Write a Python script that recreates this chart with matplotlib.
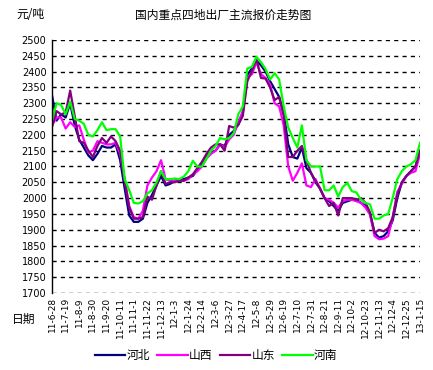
import numpy as np
import matplotlib
matplotlib.use("Agg")
import matplotlib.pyplot as plt

plt.rcParams['font.family'] = ['DejaVu Sans', 'Noto Sans CJK SC']

# weekly quotes, 11-6-28 .. 13-1-15 (82 weeks)
hebei = [2325, 2245, 2265, 2255, 2300, 2230, 2185, 2160, 2135, 2120,
         2140, 2165, 2160, 2160, 2170, 2120, 2030, 1945, 1925, 1925,
         1935, 1985, 2010, 2040, 2070, 2040, 2045, 2055, 2060, 2060,
         2065, 2070, 2090, 2105, 2135, 2145, 2150, 2170, 2165, 2200,
         2212, 2232, 2270, 2390, 2410, 2435, 2420, 2400, 2370, 2345,
         2320, 2270, 2170, 2130, 2125, 2160, 2095, 2080, 2050, 2030,
         2000, 1990, 1975, 1960, 1985, 1990, 1995, 1995, 1985, 1975,
         1950, 1890, 1875, 1880, 1895, 1930, 2000, 2050, 2070, 2085,
         2100, 2150]
shanxi = [2230, 2255, 2255, 2220, 2240, 2225, 2230, 2185, 2145, 2150,
          2180, 2175, 2170, 2170, 2175, 2140, 2060, 1975, 1940, 1935,
          1960, 2040, 2065, 2085, 2120, 2060, 2055, 2055, 2055, 2055,
          2060, 2075, 2085, 2100, 2125, 2140, 2150, 2170, 2160, 2186,
          2200, 2240, 2275, 2380, 2392, 2430, 2392, 2380, 2360, 2300,
          2290, 2230, 2100, 2055, 2080, 2110, 2040, 2035, 2060, 2030,
          2000, 1995, 1985, 1970, 1990, 1995, 1995, 1990, 1985, 1970,
          1948, 1880, 1870, 1872, 1880, 1940, 2020, 2045, 2070, 2080,
          2085, 2140]
shandong = [2225, 2275, 2265, 2270, 2340, 2260, 2180, 2175, 2150, 2130,
            2165, 2190, 2175, 2195, 2180, 2150, 2055, 1970, 1935, 1935,
            1940, 2005, 1995, 2040, 2085, 2045, 2050, 2050, 2055, 2055,
            2065, 2075, 2095, 2115, 2140, 2160, 2170, 2170, 2150, 2228,
            2223, 2232, 2260, 2370, 2402, 2440, 2380, 2378, 2350, 2310,
            2320, 2260, 2130, 2130, 2150, 2165, 2120, 2080, 2055, 2030,
            2000, 1975, 1985, 1945, 2000, 2000, 2000, 1995, 2000, 1985,
            1955, 1890, 1900, 1895, 1905, 1940, 2010, 2050, 2070, 2085,
            2100, 2150]
henan = [2245, 2300, 2295, 2265, 2305, 2250, 2245, 2235, 2200, 2195,
         2215, 2240, 2215, 2218, 2218, 2195, 2060, 2025, 1985, 1983,
         1990, 2015, 2025, 2050, 2085, 2060, 2060, 2062, 2060, 2068,
         2085, 2118, 2100, 2100, 2125, 2150, 2165, 2190, 2186, 2190,
         2205, 2265, 2290, 2410, 2415, 2447, 2430, 2408, 2375, 2395,
         2375, 2290, 2223, 2190, 2160, 2230, 2120, 2100, 2100, 2100,
         2025, 2025, 2040, 2005, 2035, 2048, 2022, 2018, 1995, 1985,
         1980, 1935, 1935, 1945, 1950, 2001, 2060, 2085, 2100, 2107,
         2120, 2175]
date_labels = ["11-6-28", "11-7-19", "11-8-9", "11-8-30", "11-9-20", "11-10-11",
               "11-11-1", "11-11-22", "11-12-13", "12-1-3", "12-1-24", "12-2-14",
               "12-3-6", "12-3-27", "12-4-17", "12-5-8", "12-5-29", "12-6-19",
               "12-7-10", "12-7-31", "12-8-21", "12-9-11", "12-10-2", "12-10-23",
               "12-11-13", "12-12-4", "12-12-25", "13-1-15"]
series_names = ["河北", "山西", "山东", "河南"]
colors = ["#000080", "#FF00FF", "#800080", "#00FF00"]

fig = plt.figure(figsize=(4.33, 3.70), dpi=100)
ax = fig.add_axes([52/433, 1-293/370, 368/433, 253/370])

x = np.arange(len(hebei))
for vals, name, c in zip([hebei, shanxi, shandong, henan], series_names, colors):
    ax.plot(x, vals, color=c, lw=1.6, label=name)

ax.set_xlim(0, len(hebei) - 1)
ax.set_ylim(1700, 2500)
ax.set_yticks(np.arange(1700, 2501, 50))
ax.yaxis.grid(True, linestyle=(0, (3, 3)), color="black", lw=1)
ax.set_axisbelow(True)
for s in ["top", "right", "bottom"]:
    ax.spines[s].set_visible(False)
ax.spines["left"].set_linewidth(1)
ax.tick_params(axis="y", length=0, pad=4, labelsize=7)
ax.set_xticks(np.arange(0, len(hebei), 3))
ax.set_xticklabels(date_labels, rotation=90, fontsize=6.5)
ax.tick_params(axis="x", length=0, pad=3)

fig.text(16/433, 1-15/370, "元/吨", fontsize=8.5, va="center", ha="left",
         family=["Noto Sans CJK SC"])
fig.text(223/433, 1-15/370, "国内重点四地出厂主流报价走势图", fontsize=8.5,
         va="center", ha="center", family=["Noto Sans CJK SC"])
fig.text(24/433, 1-319/370, "日期", fontsize=8.5, va="center", ha="center",
         family=["Noto Sans CJK SC"])

fig.legend(loc="center", bbox_to_anchor=(216/433, 1-356/370), ncol=4,
           frameon=False, handlelength=2.6, handletextpad=0.1,
           columnspacing=0.6, prop={"family": "Noto Sans CJK SC", "size": 8.5})

fig.savefig("out.png", dpi=100)
